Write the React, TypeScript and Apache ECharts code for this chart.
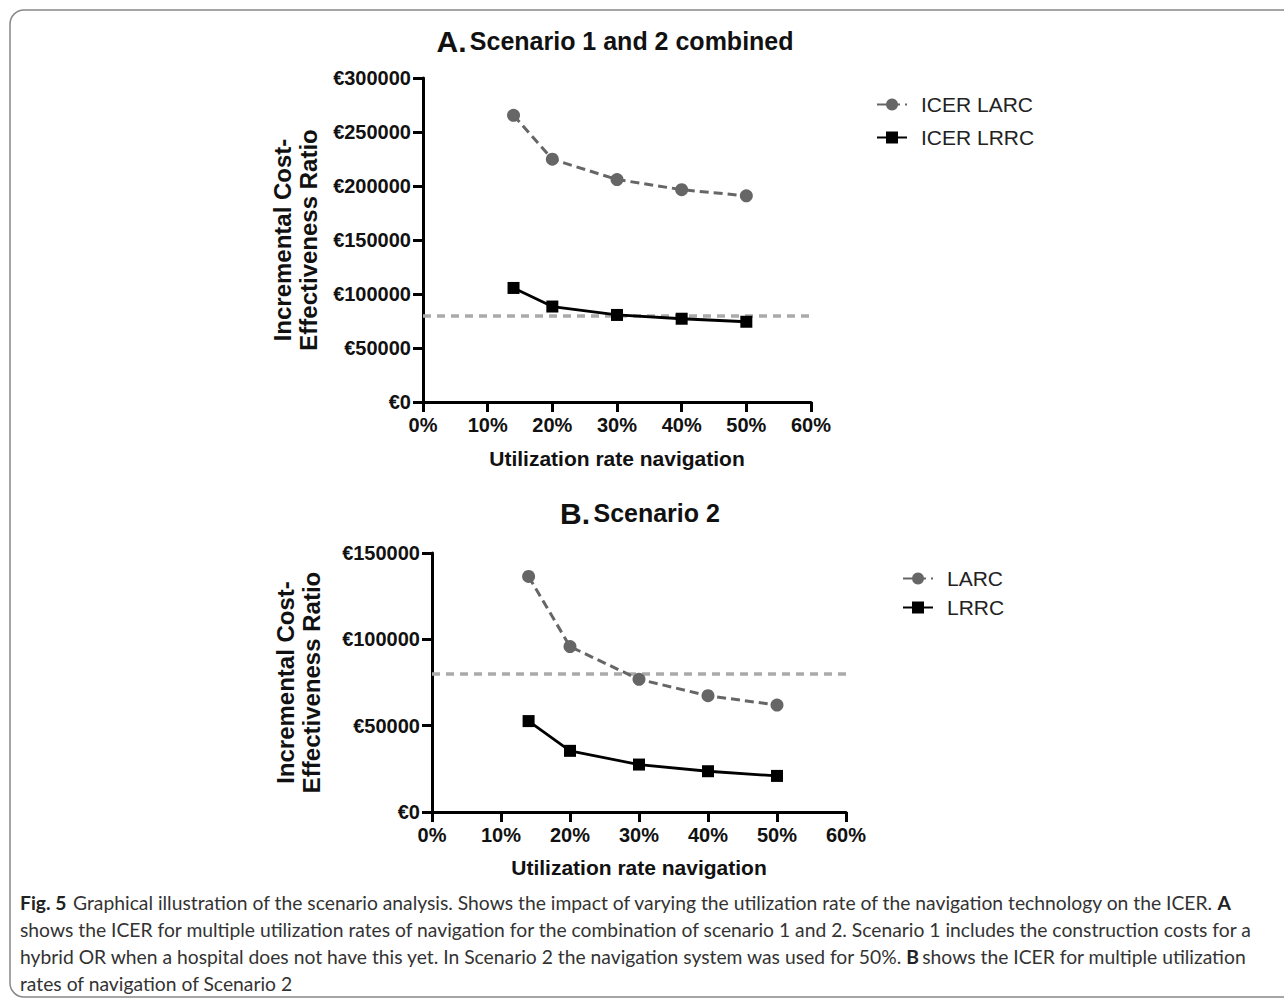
import React, { useEffect, useRef } from "react";
import * as echarts from "echarts";

// Utilization rate of navigation (%)
const utilization = [14, 20, 30, 40, 50];
// Panel A: Scenario 1 and 2 combined
const aLarc = [265500, 224800, 206000, 196600, 190900];
const aLrrc = [105600, 88400, 80600, 77100, 74300];
// Panel B: Scenario 2
const bLarc = [136450, 95800, 76840, 67350, 61940];
const bLrrc = [52650, 35420, 27480, 23610, 20900];
// Willingness-to-pay threshold
const threshold = 80000;

const aNames = ["ICER LARC", "ICER LRRC"];
const bNames = ["LARC", "LRRC"];
const xName = "Utilization rate navigation";
const yName = "Incremental Cost-\nEffectiveness Ratio";

const captionLines = [
  "{b|Fig. 5}  {n|Graphical illustration of the scenario analysis. Shows the impact of varying the utilization rate of the navigation technology on the ICER.} {b|A}",
  "{n|shows the ICER for multiple utilization rates of navigation for the combination of scenario 1 and 2. Scenario 1 includes the construction costs for a}",
  "{n|hybrid OR when a hospital does not have this yet. In Scenario 2 the navigation system was used for 50%.} {b|B} {n|shows the ICER for multiple utilization}",
  "{n|rates of navigation of Scenario 2}",
];

const FF = "Liberation Sans, Arial, sans-serif";
const CF = "Lato, Open Sans, sans-serif";
const GRAY = "#666666";

function makeX(gridIndex: number, nameGap: number) {
  return {
    type: "value",
    gridIndex,
    min: 0,
    max: 60,
    interval: 10,
    name: xName,
    nameLocation: "middle",
    nameGap,
    nameTextStyle: { fontFamily: FF, fontWeight: "bold", fontSize: 21, color: "#111" },
    axisLine: { show: true, onZero: false, lineStyle: { color: "#000", width: 3 } },
    axisTick: { show: true, length: 10, lineStyle: { color: "#000", width: 3 } },
    axisLabel: { formatter: "{value}%", fontFamily: FF, fontWeight: "bold", fontSize: 20, color: "#111", margin: 13 },
    splitLine: { show: false },
  };
}

function makeY(gridIndex: number, max: number, nameGap: number) {
  return {
    type: "value",
    gridIndex,
    min: 0,
    max,
    interval: 50000,
    name: yName,
    nameLocation: "middle",
    nameRotate: 90,
    nameGap,
    nameTextStyle: { fontFamily: FF, fontWeight: "bold", fontSize: 24, color: "#111", lineHeight: 26 },
    axisLine: { show: true, onZero: false, lineStyle: { color: "#000", width: 3 } },
    axisTick: { show: true, length: 10, lineStyle: { color: "#000", width: 3 } },
    axisLabel: { formatter: (v: number) => "€" + v, fontFamily: FF, fontWeight: "bold", fontSize: 20, color: "#111", margin: 12 },
    splitLine: { show: false },
  };
}

function larcSeries(name: string, idx: number, vals: number[]) {
  return {
    type: "line",
    name,
    xAxisIndex: idx,
    yAxisIndex: idx,
    data: utilization.map((u, i) => [u, vals[i]]),
    symbol: "circle",
    symbolSize: 13,
    itemStyle: { color: GRAY },
    lineStyle: { color: GRAY, width: 3, type: [9, 5] },
    z: 3,
  };
}

function lrrcSeries(name: string, idx: number, vals: number[]) {
  return {
    type: "line",
    name,
    xAxisIndex: idx,
    yAxisIndex: idx,
    data: utilization.map((u, i) => [u, vals[i]]),
    symbol: "rect",
    symbolSize: 12,
    itemStyle: { color: "#000" },
    lineStyle: { color: "#000", width: 2.8 },
    z: 4,
    markLine: {
      silent: true,
      symbol: ["none", "none"],
      label: { show: false },
      lineStyle: { color: "#aaaaaa", width: 3.5, type: [8, 6] },
      data: [{ yAxis: threshold }],
      z: 2,
    },
  };
}

export default function App() {
  const ref = useRef<HTMLDivElement>(null);
  useEffect(() => {
    document.body.style.margin = "0";
    const chart = echarts.init(ref.current!, undefined, { renderer: "svg" });
    const legendText = { fontFamily: FF, fontSize: 21, color: "#222", padding: [0, 0, 0, 9] };
    chart.setOption({
      animation: false,
      backgroundColor: "#fff",
      grid: [
        { left: 423, top: 78, width: 388, height: 324 },
        { left: 432, top: 553, width: 414, height: 259 },
      ],
      xAxis: [makeX(0, 46), makeX(1, 45)],
      yAxis: [makeY(0, 300000, 102), makeY(1, 150000, 108)],
      legend: [
        {
          data: aNames,
          left: 871,
          top: 89,
          orient: "vertical",
          itemWidth: 30,
          itemHeight: 15,
          itemGap: 12,
          textStyle: legendText,
        },
        {
          data: bNames,
          left: 897,
          top: 563,
          orient: "vertical",
          itemWidth: 30,
          itemHeight: 15,
          itemGap: 8,
          textStyle: legendText,
        },
      ],
      series: [
        larcSeries(aNames[0], 0, aLarc),
        lrrcSeries(aNames[1], 0, aLrrc),
        larcSeries(bNames[0], 1, bLarc),
        lrrcSeries(bNames[1], 1, bLrrc),
      ],
      graphic: [
        {
          type: "rect",
          shape: { x: 10, y: 10, width: 1300, height: 987, r: 14 },
          style: { fill: "none", stroke: "#888", lineWidth: 1.5 },
          silent: true,
        },
        {
          type: "text",
          x: 615,
          y: 41,
          style: {
            text: "{a|A.} {b|Scenario 1 and 2 combined}",
            align: "center",
            verticalAlign: "middle",
            rich: {
              a: { fontFamily: FF, fontWeight: "bold", fontSize: 30, fill: "#111" },
              b: { fontFamily: FF, fontWeight: "bold", fontSize: 25, fill: "#111" },
            },
          },
        },
        {
          type: "text",
          x: 640,
          y: 513,
          style: {
            text: "{a|B.} {b|Scenario 2}",
            align: "center",
            verticalAlign: "middle",
            rich: {
              a: { fontFamily: FF, fontWeight: "bold", fontSize: 30, fill: "#111" },
              b: { fontFamily: FF, fontWeight: "bold", fontSize: 25, fill: "#111" },
            },
          },
        },
        ...captionLines.map((t, i) => ({
          type: "text",
          x: 20,
          y: 902 + i * 27,
          style: {
            text: t,
            align: "left",
            verticalAlign: "middle",
            rich: {
              b: { fontFamily: CF, fontWeight: "bold", fontSize: 19.3, fill: "#222" },
              n: { fontFamily: CF, fontSize: 19.3, fill: "#333" },
            },
          },
        })),
      ],
    });
    return () => chart.dispose();
  }, []);
  return <div ref={ref} style={{ width: 1284, height: 1000 }} />;
}
